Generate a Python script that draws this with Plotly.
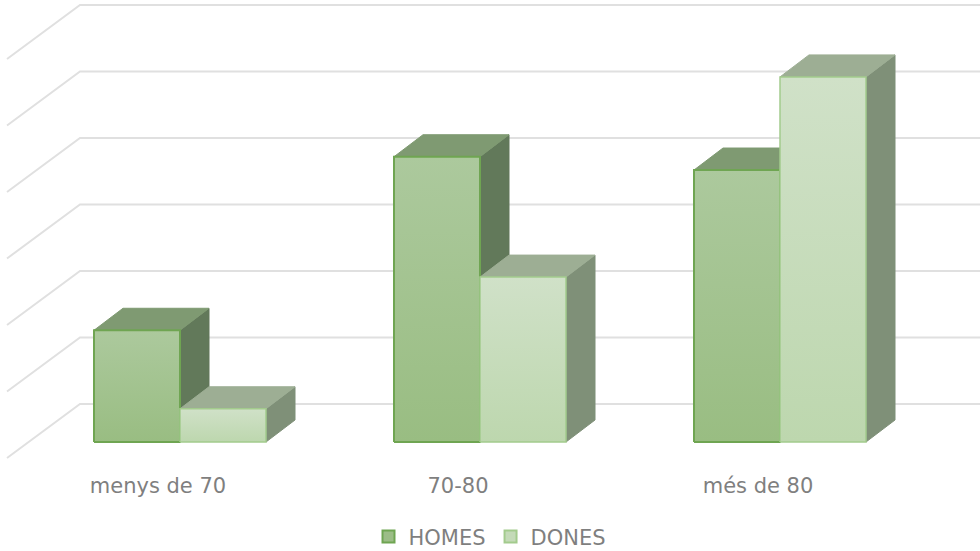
import plotly.graph_objects as go

categories = ["menys de 70", "70-80", "més de 80"]
homes = [1.68, 4.29, 4.09]
dones = [0.50, 2.48, 5.49]
grid_levels = [0, 1, 2, 3, 4, 5, 6]

W, H = 980, 551
PLOT_BOTTOM = 470
X_UNIT = 300.0   # px per category
Y_UNIT = 66.5    # px per value unit
X0_PX, Y0_PX = 180.0, 442.0  # category 0 centre, value 0 in the bars' front plane
BAR_W = 86 / X_UNIT
DEPTH_X, DEPTH_Y = 29 / X_UNIT, 22 / Y_UNIT
WALL_FRONT_Y = -16 / Y_UNIT   # floor front edge relative to bars' plane
WALL_FRONT_LEFT = (7 - X0_PX) / X_UNIT
WALL_BACK_LEFT = (80 - X0_PX) / X_UNIT
WALL_RIGHT = (W - X0_PX) / X_UNIT
WALL_RISE = 54 / Y_UNIT
LABEL_SHIFT = -22 / X_UNIT

STYLES = {
    "HOMES": dict(front=("#acc99d", "#99bd82"), side="#62795a", top="#7f9a72", line="#6fa552", lw=2, legend="#9cbd87"),
    "DONES": dict(front=("#d0e1c8", "#bdd7ae"), side="#7f9078", top="#9dae94", line="#a3cb8d", lw=1.5, legend="#c4dab8"),
}
GRID = "#e0e0e0"

fig = go.Figure()

# wall grid: back lines and floor/side diagonals
for lv in grid_levels:
    yf = lv + WALL_FRONT_Y
    fig.add_trace(go.Scatter(
        x=[WALL_FRONT_LEFT, WALL_BACK_LEFT, WALL_RIGHT],
        y=[yf, yf + WALL_RISE, yf + WALL_RISE],
        mode="lines", line=dict(color=GRID, width=2), showlegend=False, hoverinfo="skip"))


def poly(xs, ys, color0, color1, line, lw=1):
    fig.add_trace(go.Scatter(
        x=xs + xs[:1], y=ys + ys[:1], mode="lines", fill="toself",
        fillgradient=dict(type="vertical", colorscale=[[0, color1], [1, color0]]),
        line=dict(color=line, width=lw), showlegend=False, hoverinfo="skip"))


def bar3d(xl, v, st):
    xr = xl + BAR_W
    poly([xr, xr + DEPTH_X, xr + DEPTH_X, xr], [0, DEPTH_Y, v + DEPTH_Y, v], st["side"], st["side"], st["side"])
    poly([xl, xr, xr + DEPTH_X, xl + DEPTH_X], [v, v, v + DEPTH_Y, v + DEPTH_Y], st["top"], st["top"], st["top"])
    poly([xl, xr, xr, xl], [0, 0, v, v], st["front"][0], st["front"][1], st["line"], st["lw"])


for i in range(len(categories)):
    bar3d(i - BAR_W, homes[i], STYLES["HOMES"])
    bar3d(i, dones[i], STYLES["DONES"])

for name in ["HOMES", "DONES"]:
    fig.add_trace(go.Scatter(
        x=[None], y=[None], mode="markers", name=name,
        marker=dict(symbol="square", size=12, color=STYLES[name]["legend"],
                    line=dict(color=STYLES[name]["line"], width=2))))

fig.update_layout(
    width=W, height=H, autosize=False,
    margin=dict(l=0, r=0, t=0, b=H - PLOT_BOTTOM, autoexpand=False),
    paper_bgcolor="white", plot_bgcolor="white",
    font=dict(family="DejaVu Sans", color="#7f7f7f", size=20),
    legend=dict(orientation="h", x=0.5, xanchor="center", y=-0.142, yanchor="middle",
                font=dict(size=21, color="#7f7f7f"), traceorder="normal",
                itemwidth=30, bgcolor="rgba(0,0,0,0)"),
    xaxis=dict(range=[(0 - X0_PX) / X_UNIT, (W - X0_PX) / X_UNIT],
               tickmode="array", tickvals=[i + LABEL_SHIFT for i in range(len(categories))],
               ticktext=categories, showgrid=False, zeroline=False, showline=False,
               ticks="", ticklabelstandoff=1, tickfont=dict(size=21, color="#7f7f7f"), fixedrange=True),
    yaxis=dict(range=[(Y0_PX - PLOT_BOTTOM) / Y_UNIT, Y0_PX / Y_UNIT],
               showgrid=False, zeroline=False, showline=False, showticklabels=False, ticks="", fixedrange=True),
)

fig.write_html("out.html", post_script="document.body.style.margin='0';",
               config={"displayModeBar": False})
